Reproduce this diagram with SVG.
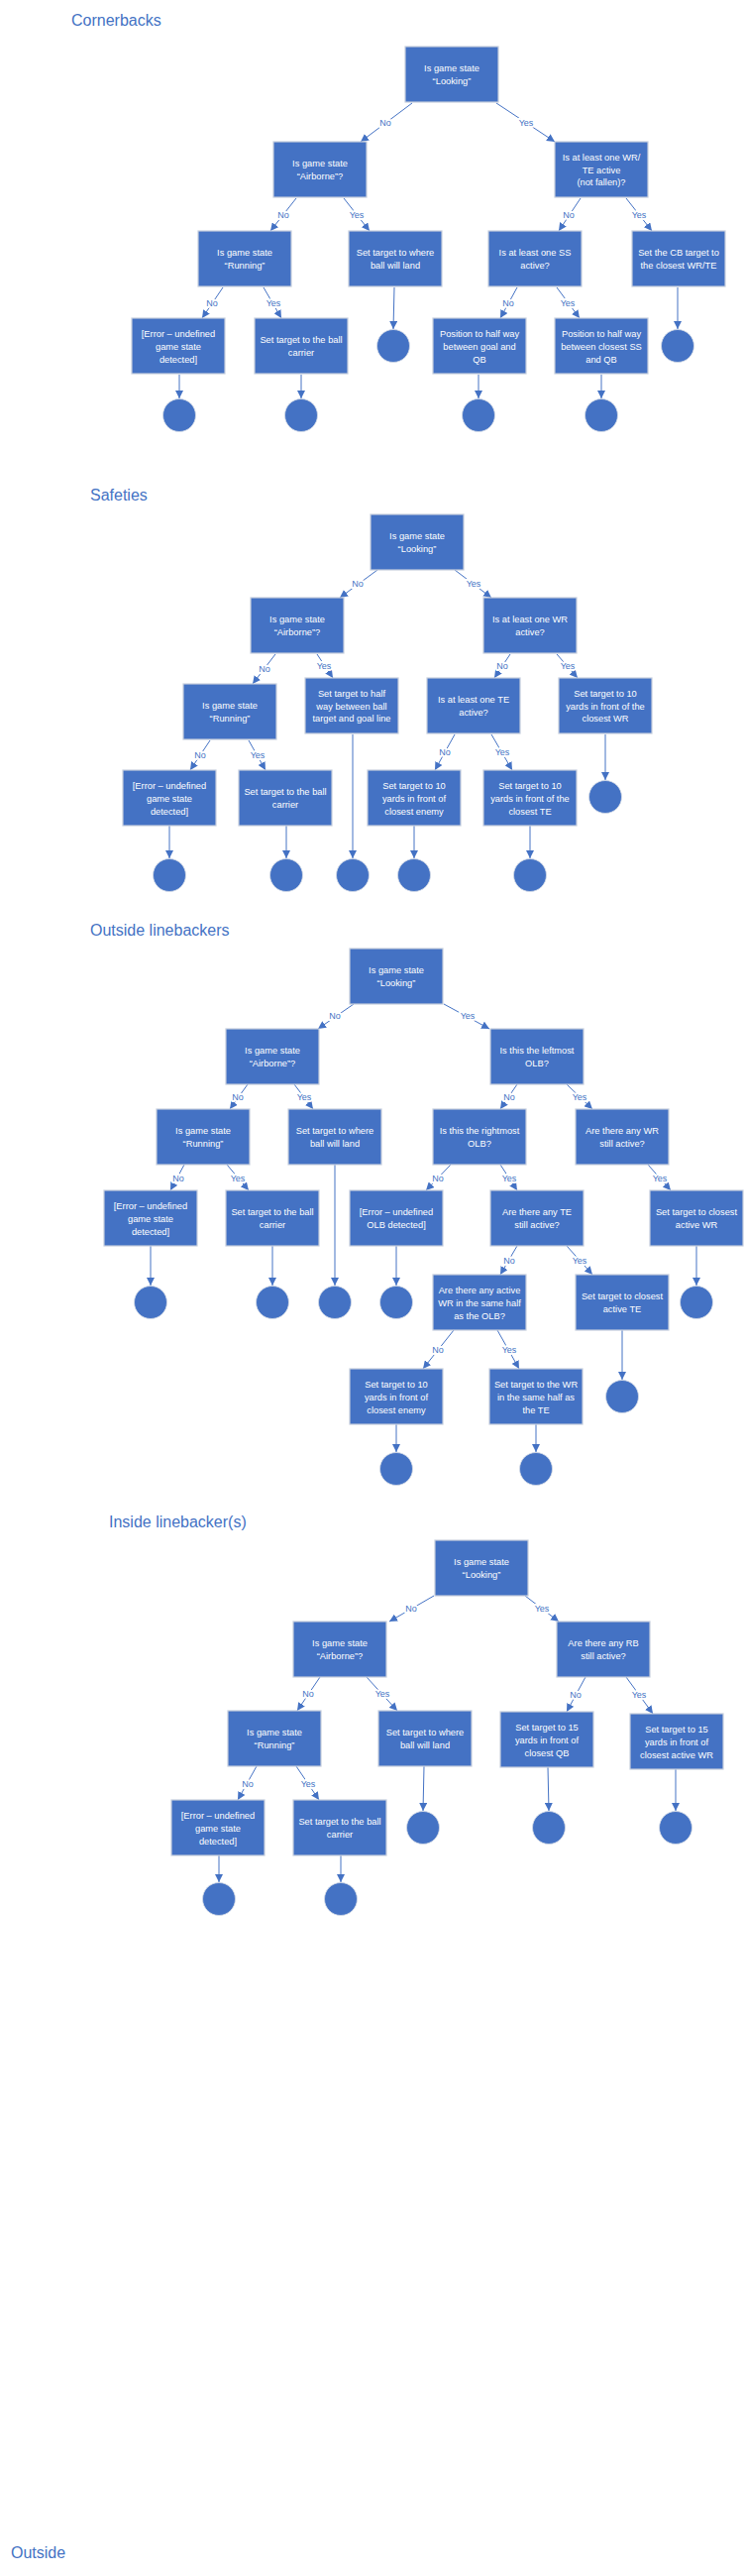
<svg xmlns="http://www.w3.org/2000/svg" width="752" height="2599" viewBox="0 0 752 2599">
<style>
.h{font-family:"Liberation Sans",Arial,sans-serif;font-size:16px;fill:#4472C4}
.b rect{fill:#4472C4;stroke:#C5CEDD;stroke-width:1.2}
.b text{font-family:"Liberation Sans",Arial,sans-serif;font-size:9.3px;fill:#fff;text-anchor:middle}
.e{fill:#4472C4;stroke:#D6DCE6;stroke-width:0.8}
#connectors line{stroke:#4472C4;stroke-width:1;fill:none;marker-end:url(#ah)}
#connectors text{font-family:"Liberation Sans",Arial,sans-serif;font-size:9px;fill:#4472C4;text-anchor:middle;stroke:#fff;stroke-width:4;paint-order:stroke;stroke-linejoin:round}
</style>
<defs>
<marker id="ah" viewBox="0 0 10 10" refX="10" refY="5" markerWidth="8" markerHeight="8" markerUnits="userSpaceOnUse" orient="auto"><path d="M0,0 L10,5 L0,10 z" fill="#4472C4"/></marker>
</defs>
<rect width="752" height="2599" fill="#fff"/>

<text class="h" x="72" y="26">Cornerbacks</text>
<text class="h" x="91" y="505">Safeties</text>
<text class="h" x="91" y="944">Outside linebackers</text>
<text class="h" x="110" y="1541">Inside linebacker(s)</text>
<text class="h" x="11" y="2581">Outside</text>

<g id="connectors">
<!-- section 1 -->
<line x1="416" y1="104" x2="364" y2="143"/><text x="389" y="127">No</text>
<line x1="501" y1="104" x2="560" y2="143"/><text x="531" y="127">Yes</text>
<line x1="299" y1="200" x2="273" y2="233"/><text x="286" y="220">No</text>
<line x1="347" y1="200" x2="373" y2="233"/><text x="360" y="220">Yes</text>
<line x1="586" y1="200" x2="564" y2="233"/><text x="574" y="220">No</text>
<line x1="632" y1="200" x2="658" y2="233"/><text x="645" y="220">Yes</text>
<line x1="225" y1="290" x2="204" y2="321"/><text x="214" y="309">No</text>
<line x1="266" y1="290" x2="284" y2="321"/><text x="276" y="309">Yes</text>
<line x1="522" y1="290" x2="505" y2="321"/><text x="513" y="309">No</text>
<line x1="562" y1="290" x2="585" y2="321"/><text x="573" y="309">Yes</text>
<line x1="398" y1="290" x2="397" y2="332"/>
<line x1="684" y1="290" x2="684" y2="332"/>
<line x1="181" y1="378" x2="181" y2="402"/>
<line x1="304" y1="378" x2="304" y2="402"/>
<line x1="483" y1="378" x2="483" y2="402"/>
<line x1="607" y1="378" x2="607" y2="402"/>
<!-- section 2 -->
<line x1="381" y1="575" x2="343" y2="603"/><text x="361" y="592">No</text>
<line x1="459" y1="575" x2="496" y2="603"/><text x="478" y="592">Yes</text>
<line x1="278" y1="660" x2="255" y2="690"/><text x="267" y="678">No</text>
<line x1="320" y1="660" x2="336" y2="684"/><text x="327" y="675">Yes</text>
<line x1="515" y1="660" x2="499" y2="684"/><text x="507" y="675">No</text>
<line x1="562" y1="660" x2="583" y2="684"/><text x="573" y="675">Yes</text>
<line x1="212" y1="747" x2="192" y2="777"/><text x="202" y="765">No</text>
<line x1="251" y1="747" x2="268" y2="777"/><text x="260" y="765">Yes</text>
<line x1="459" y1="741" x2="439" y2="777"/><text x="449" y="762">No</text>
<line x1="496" y1="741" x2="517" y2="777"/><text x="507" y="762">Yes</text>
<line x1="356" y1="741" x2="356" y2="866"/>
<line x1="611" y1="741" x2="611" y2="787"/>
<line x1="171" y1="833" x2="171" y2="866"/>
<line x1="289" y1="833" x2="289" y2="866"/>
<line x1="418" y1="833" x2="418" y2="866"/>
<line x1="535" y1="833" x2="535" y2="866"/>
<!-- section 3 -->
<line x1="357" y1="1013" x2="321" y2="1038"/><text x="338" y="1028">No</text>
<line x1="448" y1="1013" x2="494" y2="1038"/><text x="472" y="1028">Yes</text>
<line x1="250" y1="1094" x2="232" y2="1119"/><text x="240" y="1110">No</text>
<line x1="297" y1="1094" x2="316" y2="1119"/><text x="307" y="1110">Yes</text>
<line x1="522" y1="1094" x2="505" y2="1119"/><text x="514" y="1110">No</text>
<line x1="572" y1="1094" x2="598" y2="1119"/><text x="585" y="1110">Yes</text>
<line x1="186" y1="1175" x2="172" y2="1201"/><text x="180" y="1192">No</text>
<line x1="229" y1="1175" x2="251" y2="1201"/><text x="240" y="1192">Yes</text>
<line x1="455" y1="1175" x2="430" y2="1201"/><text x="442" y="1192">No</text>
<line x1="505" y1="1175" x2="522" y2="1201"/><text x="514" y="1192">Yes</text>
<line x1="654" y1="1175" x2="677" y2="1201"/><text x="666" y="1192">Yes</text>
<line x1="522" y1="1257" x2="505" y2="1286"/><text x="514" y="1275">No</text>
<line x1="572" y1="1257" x2="598" y2="1286"/><text x="585" y="1275">Yes</text>
<line x1="458" y1="1342" x2="427" y2="1381"/><text x="442" y="1365">No</text>
<line x1="502" y1="1342" x2="524" y2="1381"/><text x="514" y="1365">Yes</text>
<line x1="338" y1="1175" x2="338" y2="1297"/>
<line x1="152" y1="1257" x2="152" y2="1297"/>
<line x1="275" y1="1257" x2="275" y2="1297"/>
<line x1="400" y1="1257" x2="400" y2="1297"/>
<line x1="703" y1="1257" x2="703" y2="1297"/>
<line x1="628" y1="1342" x2="628" y2="1392"/>
<line x1="400" y1="1437" x2="400" y2="1465"/>
<line x1="541" y1="1437" x2="541" y2="1465"/>
<!-- section 4 -->
<line x1="438" y1="1610" x2="393" y2="1636"/><text x="415" y="1626">No</text>
<line x1="530" y1="1610" x2="564" y2="1636"/><text x="547" y="1626">Yes</text>
<line x1="323" y1="1692" x2="300" y2="1726"/><text x="311" y="1712">No</text>
<line x1="370" y1="1692" x2="401" y2="1726"/><text x="386" y="1712">Yes</text>
<line x1="591" y1="1692" x2="572" y2="1727"/><text x="581" y="1713">No</text>
<line x1="632" y1="1692" x2="659" y2="1729"/><text x="645" y="1713">Yes</text>
<line x1="259" y1="1782" x2="240" y2="1816"/><text x="250" y="1803">No</text>
<line x1="299" y1="1782" x2="322" y2="1816"/><text x="311" y="1803">Yes</text>
<line x1="428" y1="1782" x2="427" y2="1827"/>
<line x1="553" y1="1783" x2="554" y2="1827"/>
<line x1="682" y1="1785" x2="682" y2="1827"/>
<line x1="221" y1="1872" x2="221" y2="1899"/>
<line x1="344" y1="1872" x2="344" y2="1899"/>
</g>

<!-- Section 1: Cornerbacks -->
<g id="cb_root" class="b"><rect x="409" y="47" width="94" height="56"/><text x="456" y="72">Is game state</text><text x="456" y="85">“Looking”</text></g>
<g id="cb_air" class="b"><rect x="276" y="143" width="94" height="56"/><text x="323" y="168">Is game state</text><text x="323" y="181">“Airborne”?</text></g>
<g id="cb_wrte" class="b"><rect x="560" y="143" width="94" height="56"/><text x="607" y="162">Is at least one WR/</text><text x="607" y="175">TE active</text><text x="607" y="187">(not fallen)?</text></g>
<g id="cb_run" class="b"><rect x="200" y="233" width="94" height="56"/><text x="247" y="258">Is game state</text><text x="247" y="271">“Running”</text></g>
<g id="cb_where" class="b"><rect x="352" y="233" width="94" height="56"/><text x="399" y="258">Set target to where</text><text x="399" y="271">ball will land</text></g>
<g id="cb_ss" class="b"><rect x="493" y="233" width="94" height="56"/><text x="540" y="258">Is at least one SS</text><text x="540" y="271">active?</text></g>
<g id="cb_cb" class="b"><rect x="638" y="233" width="94" height="56"/><text x="685" y="258">Set the CB target to</text><text x="685" y="271">the closest WR/TE</text></g>
<g id="cb_err" class="b"><rect x="133" y="321" width="94" height="56"/><text x="180" y="340">[Error – undefined</text><text x="180" y="353">game state</text><text x="180" y="366">detected]</text></g>
<g id="cb_car" class="b"><rect x="257" y="321" width="94" height="56"/><text x="304" y="346">Set target to the ball</text><text x="304" y="359">carrier</text></g>
<g id="cb_pos1" class="b"><rect x="437" y="321" width="94" height="56"/><text x="484" y="340">Position to half way</text><text x="484" y="353">between goal and</text><text x="484" y="366">QB</text></g>
<g id="cb_pos2" class="b"><rect x="560" y="321" width="94" height="56"/><text x="607" y="340">Position to half way</text><text x="607" y="353">between closest SS</text><text x="607" y="366">and QB</text></g>
<g id="cb_end1"><circle class="e" cx="397" cy="349" r="16.5"/></g>
<g id="cb_end2"><circle class="e" cx="684" cy="349" r="16.5"/></g>
<g id="cb_end3"><circle class="e" cx="181" cy="419" r="16.5"/></g>
<g id="cb_end4"><circle class="e" cx="304" cy="419" r="16.5"/></g>
<g id="cb_end5"><circle class="e" cx="483" cy="419" r="16.5"/></g>
<g id="cb_end6"><circle class="e" cx="607" cy="419" r="16.5"/></g>

<!-- Section 2: Safeties -->
<g id="s_root" class="b"><rect x="374" y="519" width="94" height="56"/><text x="421" y="544">Is game state</text><text x="421" y="557">“Looking”</text></g>
<g id="s_air" class="b"><rect x="253" y="603" width="94" height="56"/><text x="300" y="628">Is game state</text><text x="300" y="641">“Airborne”?</text></g>
<g id="s_wr" class="b"><rect x="488" y="603" width="94" height="56"/><text x="535" y="628">Is at least one WR</text><text x="535" y="641">active?</text></g>
<g id="s_run" class="b"><rect x="185" y="690" width="94" height="56"/><text x="232" y="715">Is game state</text><text x="232" y="728">“Running”</text></g>
<g id="s_half" class="b"><rect x="308" y="684" width="94" height="56"/><text x="355" y="703">Set target to half</text><text x="355" y="716">way between ball</text><text x="355" y="728">target and goal line</text></g>
<g id="s_te" class="b"><rect x="431" y="684" width="94" height="56"/><text x="478" y="709">Is at least one TE</text><text x="478" y="722">active?</text></g>
<g id="s_10wr" class="b"><rect x="564" y="684" width="94" height="56"/><text x="611" y="703">Set target to 10</text><text x="611" y="716">yards in front of the</text><text x="611" y="728">closest WR</text></g>
<g id="s_err" class="b"><rect x="124" y="777" width="94" height="56"/><text x="171" y="796">[Error – undefined</text><text x="171" y="809">game state</text><text x="171" y="822">detected]</text></g>
<g id="s_car" class="b"><rect x="241" y="777" width="94" height="56"/><text x="288" y="802">Set target to the ball</text><text x="288" y="815">carrier</text></g>
<g id="s_enemy" class="b"><rect x="371" y="777" width="94" height="56"/><text x="418" y="796">Set target to 10</text><text x="418" y="809">yards in front of</text><text x="418" y="822">closest enemy</text></g>
<g id="s_10te" class="b"><rect x="488" y="777" width="94" height="56"/><text x="535" y="796">Set target to 10</text><text x="535" y="809">yards in front of the</text><text x="535" y="822">closest TE</text></g>
<g id="s_end1"><circle class="e" cx="611" cy="804" r="16.5"/></g>
<g id="s_end2"><circle class="e" cx="171" cy="883" r="16.5"/></g>
<g id="s_end3"><circle class="e" cx="289" cy="883" r="16.5"/></g>
<g id="s_end4"><circle class="e" cx="356" cy="883" r="16.5"/></g>
<g id="s_end5"><circle class="e" cx="418" cy="883" r="16.5"/></g>
<g id="s_end6"><circle class="e" cx="535" cy="883" r="16.5"/></g>

<!-- Section 3: Outside linebackers -->
<g id="o_root" class="b"><rect x="353" y="957" width="94" height="56"/><text x="400" y="982">Is game state</text><text x="400" y="995">“Looking”</text></g>
<g id="o_air" class="b"><rect x="228" y="1038" width="94" height="56"/><text x="275" y="1063">Is game state</text><text x="275" y="1076">“Airborne”?</text></g>
<g id="o_left" class="b"><rect x="495" y="1038" width="94" height="56"/><text x="542" y="1063">Is this the leftmost</text><text x="542" y="1076">OLB?</text></g>
<g id="o_run" class="b"><rect x="158" y="1119" width="94" height="56"/><text x="205" y="1144">Is game state</text><text x="205" y="1157">“Running”</text></g>
<g id="o_where" class="b"><rect x="291" y="1119" width="94" height="56"/><text x="338" y="1144">Set target to where</text><text x="338" y="1157">ball will land</text></g>
<g id="o_right" class="b"><rect x="437" y="1119" width="94" height="56"/><text x="484" y="1144">Is this the rightmost</text><text x="484" y="1157">OLB?</text></g>
<g id="o_anywr" class="b"><rect x="581" y="1119" width="94" height="56"/><text x="628" y="1144">Are there any WR</text><text x="628" y="1157">still active?</text></g>
<g id="o_err" class="b"><rect x="105" y="1201" width="94" height="56"/><text x="152" y="1220">[Error – undefined</text><text x="152" y="1233">game state</text><text x="152" y="1246">detected]</text></g>
<g id="o_car" class="b"><rect x="228" y="1201" width="94" height="56"/><text x="275" y="1226">Set target to the ball</text><text x="275" y="1239">carrier</text></g>
<g id="o_errolb" class="b"><rect x="353" y="1201" width="94" height="56"/><text x="400" y="1226">[Error – undefined</text><text x="400" y="1239">OLB detected]</text></g>
<g id="o_anyte" class="b"><rect x="495" y="1201" width="94" height="56"/><text x="542" y="1226">Are there any TE</text><text x="542" y="1239">still active?</text></g>
<g id="o_closewr" class="b"><rect x="656" y="1201" width="94" height="56"/><text x="703" y="1226">Set target to closest</text><text x="703" y="1239">active WR</text></g>
<g id="o_half" class="b"><rect x="437" y="1286" width="94" height="56"/><text x="484" y="1305">Are there any active</text><text x="484" y="1318">WR in the same half</text><text x="484" y="1331">as the OLB?</text></g>
<g id="o_closete" class="b"><rect x="581" y="1286" width="94" height="56"/><text x="628" y="1311">Set target to closest</text><text x="628" y="1324">active TE</text></g>
<g id="o_enemy" class="b"><rect x="353" y="1381" width="94" height="56"/><text x="400" y="1400">Set target to 10</text><text x="400" y="1413">yards in front of</text><text x="400" y="1426">closest enemy</text></g>
<g id="o_wrte" class="b"><rect x="494" y="1381" width="94" height="56"/><text x="541" y="1400">Set target to the WR</text><text x="541" y="1413">in the same half as</text><text x="541" y="1426">the TE</text></g>
<g id="o_end1"><circle class="e" cx="152" cy="1314" r="16.5"/></g>
<g id="o_end2"><circle class="e" cx="275" cy="1314" r="16.5"/></g>
<g id="o_end3"><circle class="e" cx="338" cy="1314" r="16.5"/></g>
<g id="o_end4"><circle class="e" cx="400" cy="1314" r="16.5"/></g>
<g id="o_end5"><circle class="e" cx="703" cy="1314" r="16.5"/></g>
<g id="o_end6"><circle class="e" cx="628" cy="1409" r="16.5"/></g>
<g id="o_end7"><circle class="e" cx="400" cy="1482" r="16.5"/></g>
<g id="o_end8"><circle class="e" cx="541" cy="1482" r="16.5"/></g>

<!-- Section 4: Inside linebackers -->
<g id="i_root" class="b"><rect x="439" y="1554" width="94" height="56"/><text x="486" y="1579">Is game state</text><text x="486" y="1592">“Looking”</text></g>
<g id="i_air" class="b"><rect x="296" y="1636" width="94" height="56"/><text x="343" y="1661">Is game state</text><text x="343" y="1674">“Airborne”?</text></g>
<g id="i_rb" class="b"><rect x="562" y="1636" width="94" height="56"/><text x="609" y="1661">Are there any RB</text><text x="609" y="1674">still active?</text></g>
<g id="i_run" class="b"><rect x="230" y="1726" width="94" height="56"/><text x="277" y="1751">Is game state</text><text x="277" y="1764">“Running”</text></g>
<g id="i_where" class="b"><rect x="382" y="1726" width="94" height="56"/><text x="429" y="1751">Set target to where</text><text x="429" y="1764">ball will land</text></g>
<g id="i_qb" class="b"><rect x="505" y="1727" width="94" height="56"/><text x="552" y="1746">Set target to 15</text><text x="552" y="1759">yards in front of</text><text x="552" y="1772">closest QB</text></g>
<g id="i_wr" class="b"><rect x="636" y="1729" width="94" height="56"/><text x="683" y="1748">Set target to 15</text><text x="683" y="1761">yards in front of</text><text x="683" y="1774">closest active WR</text></g>
<g id="i_err" class="b"><rect x="173" y="1816" width="94" height="56"/><text x="220" y="1835">[Error – undefined</text><text x="220" y="1848">game state</text><text x="220" y="1861">detected]</text></g>
<g id="i_car" class="b"><rect x="296" y="1816" width="94" height="56"/><text x="343" y="1841">Set target to the ball</text><text x="343" y="1854">carrier</text></g>
<g id="i_end1"><circle class="e" cx="427" cy="1844" r="16.5"/></g>
<g id="i_end2"><circle class="e" cx="554" cy="1844" r="16.5"/></g>
<g id="i_end3"><circle class="e" cx="682" cy="1844" r="16.5"/></g>
<g id="i_end4"><circle class="e" cx="221" cy="1916" r="16.5"/></g>
<g id="i_end5"><circle class="e" cx="344" cy="1916" r="16.5"/></g>
</svg>
